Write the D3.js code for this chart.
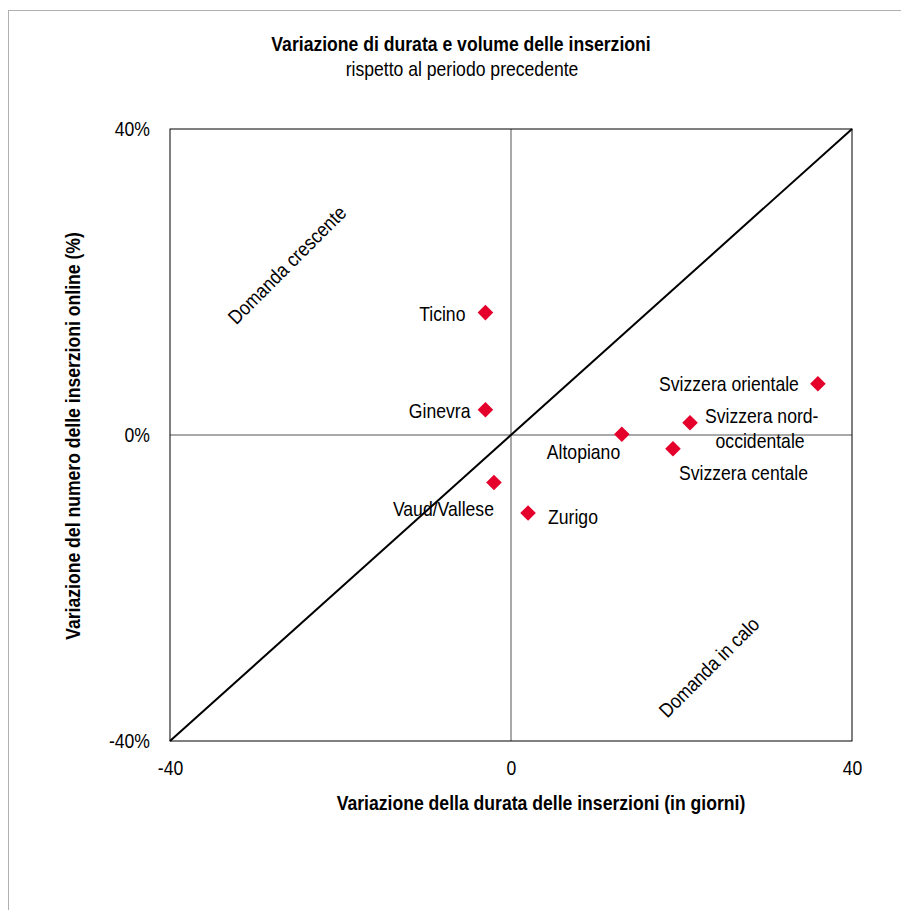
<!DOCTYPE html>
<html>
<head>
<meta charset="utf-8">
<script src="https://cdn.jsdelivr.net/npm/d3@7"></script>
<style>
  body { margin: 0; background: #fff; }
  text { font-family: "Liberation Sans", Arial, sans-serif; fill: #000; }
</style>
</head>
<body>
<script>
// data
var regions = ["Ticino", "Ginevra", "Vaud/Vallese", "Zurigo", "Altopiano", "Svizzera centale", "Svizzera nord-occidentale", "Svizzera orientale"];
var durata = [-3.0, -3.0, -2.0, 2.0, 13.0, 19.0, 21.0, 36.0];
var volume = [16.0, 3.3, -6.2, -10.2, 0.1, -1.8, 1.6, 6.7];
var xTicks = [-40, 0, 40];
var yTicks = [-40, 0, 40];

var totalWidth = 901, totalHeight = 910;
var margin = {top: 129, left: 170, right: 49, bottom: 169};
var width = totalWidth - margin.left - margin.right;
var height = totalHeight - margin.top - margin.bottom;
var squeeze = 0.88;   // the original font is a narrow one
var fontSize = 20;

// put a text at (px, py), optionally rotated, squeezed horizontally
function place(px, py, rot) {
    return "translate(" + px + "," + py + ")" + (rot ? " rotate(" + rot + ")" : "") + " scale(" + squeeze + ",1)";
}

var svg = d3.select("body").append("svg")
    .attr("width", totalWidth)
    .attr("height", totalHeight);

// outer frame
svg.append("rect")
    .attr("x", 8.5).attr("y", 10.5)
    .attr("width", 900).attr("height", 910)
    .attr("fill", "none").attr("stroke", "#b0b0b0");

// titles
svg.append("text").attr("transform", place(461, 51))
    .attr("text-anchor", "middle").attr("font-size", fontSize).attr("font-weight", "bold")
    .text("Variazione di durata e volume delle inserzioni");
svg.append("text").attr("transform", place(462, 76))
    .attr("text-anchor", "middle").attr("font-size", fontSize)
    .text("rispetto al periodo precedente");

var g = svg.append("g")
    .attr("transform", "translate(" + margin.left + "," + margin.top + ")");

var x = d3.scaleLinear().domain([-40, 40]).range([0, width]);
var y = d3.scaleLinear().domain([-40, 40]).range([height, 0]);

// zero lines
g.append("line")
    .attr("x1", x(0)).attr("x2", x(0)).attr("y1", 0).attr("y2", height)
    .attr("stroke", "#8c8c8c").attr("stroke-width", 1.5);
g.append("line")
    .attr("x1", 0).attr("x2", width).attr("y1", y(0)).attr("y2", y(0))
    .attr("stroke", "#8c8c8c").attr("stroke-width", 1.5);

// plot border
g.append("rect")
    .attr("width", width).attr("height", height)
    .attr("fill", "none").attr("stroke", "#000").attr("stroke-width", 1);

// diagonal
g.append("line")
    .attr("x1", x(-40)).attr("y1", y(-40)).attr("x2", x(40)).attr("y2", y(40))
    .attr("stroke", "#000").attr("stroke-width", 2);

// axes (labels only), plain hyphen for the minus sign
var xAxis = d3.axisBottom(x).tickValues(xTicks).tickSize(0).tickPadding(20)
    .tickFormat(function(d) { return String(d); });
var yAxis = d3.axisLeft(y).tickValues(yTicks).tickSize(0)
    .tickFormat(function(d) { return String(d) + "%"; });

g.append("g").attr("transform", "translate(0," + height + ")").call(xAxis)
    .call(function(s) { s.select(".domain").remove(); })
    .selectAll("text")
        .attr("font-size", fontSize).style("font-family", null)
        .attr("transform", "scale(" + squeeze + ",1)");
g.append("g").call(yAxis)
    .call(function(s) { s.select(".domain").remove(); })
    .selectAll("text")
        .attr("font-size", fontSize).style("font-family", null)
        .attr("x", 0)
        .attr("transform", "translate(-20,0) scale(" + squeeze + ",1)");

// axis titles
svg.append("text").attr("transform", place(541, 810))
    .attr("text-anchor", "middle").attr("font-size", fontSize).attr("font-weight", "bold")
    .text("Variazione della durata delle inserzioni (in giorni)");
svg.append("text")
    .attr("transform", place(80, 436, -90))
    .attr("text-anchor", "middle").attr("font-size", fontSize).attr("font-weight", "bold")
    .text("Variazione del numero delle inserzioni online (%)");

// quadrant notes
g.append("text")
    .attr("transform", place(x(-25.7), y(21.6), -45))
    .attr("text-anchor", "middle").attr("font-size", fontSize)
    .text("Domanda crescente");
g.append("text")
    .attr("transform", place(x(23.8), y(-31), -45))
    .attr("text-anchor", "middle").attr("font-size", fontSize)
    .text("Domanda in calo");

// points
var pts = regions.map(function(r, i) { return {name: r, x: durata[i], y: volume[i]}; });

g.selectAll(".pt")
    .data(pts)
    .enter()
    .append("path")
        .attr("class", "pt")
        .attr("d", d3.symbol().type(d3.symbolDiamond2).size(155))
        .attr("transform", function(d) { return "translate(" + x(d.x) + "," + y(d.y) + ")"; })
        .attr("fill", "#e4002b");

// point labels: offsets in px relative to the point
var labelPos = {
  "Ticino": {dx: -20, dy: 8, anchor: "end"},
  "Ginevra": {dx: -15, dy: 8, anchor: "end"},
  "Vaud/Vallese": {dx: 0, dy: 34, anchor: "end"},
  "Zurigo": {dx: 20, dy: 11, anchor: "start"},
  "Altopiano": {dx: -75, dy: 25, anchor: "start"},
  "Svizzera centale": {dx: 6, dy: 31, anchor: "start"},
  "Svizzera nord-occidentale": {dx: 15, dy: 0, anchor: "start"},
  "Svizzera orientale": {dx: -19, dy: 7, anchor: "end"}
};

g.selectAll(".lbl")
    .data(pts)
    .enter()
    .append("text")
        .attr("class", "lbl")
        .attr("font-size", fontSize)
        .attr("text-anchor", function(d) { return labelPos[d.name].anchor; })
        .attr("transform", function(d) {
            return place(x(d.x) + labelPos[d.name].dx, y(d.y) + labelPos[d.name].dy);
        })
        .each(function(d) {
            var t = d3.select(this);
            if (d.name === "Svizzera nord-occidentale") {
                t.append("tspan").text("Svizzera nord-");
                t.append("tspan").attr("x", 12).attr("dy", 25).text("occidentale");
            } else {
                t.text(d.name);
            }
        });
</script>
</body>
</html>
